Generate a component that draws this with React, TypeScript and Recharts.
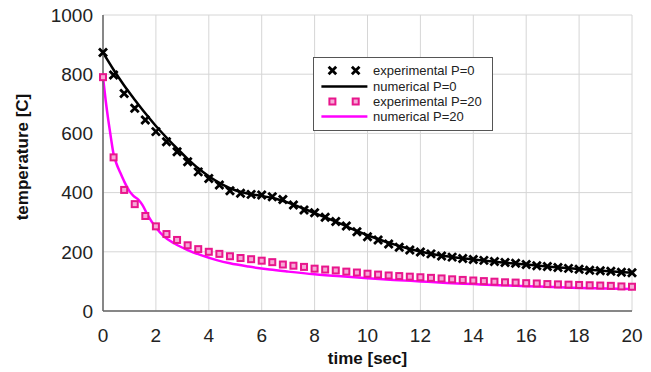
import { LineChart, Line, XAxis, YAxis, CartesianGrid, Legend, Label } from "recharts";

const FONT = "'Liberation Sans', Arial, sans-serif";

// measurement times (s)
const expTime = [
  0, 0.4, 0.8, 1.2, 1.6, 2, 2.4, 2.8, 3.2, 3.6, 4, 4.4, 4.8, 5.2, 5.6, 6, 6.4, 6.8, 7.2, 7.6, 8, 8.4, 8.8,
  9.2, 9.6, 10, 10.4, 10.8, 11.2, 11.6, 12, 12.4, 12.8, 13.2, 13.6, 14, 14.4, 14.8, 15.2, 15.6, 16, 16.4,
  16.8, 17.2, 17.6, 18, 18.4, 18.8, 19.2, 19.6, 20,
];
const expP0 = [
  873, 797, 735, 685, 645, 606, 572, 538, 504, 470, 448, 426, 406, 398, 394, 392, 386, 377, 358, 341, 332,
  317, 302, 287, 268, 251, 240, 226, 215, 206, 199, 193, 186, 182, 177, 174, 171, 167, 164, 161, 157, 153,
  150, 147, 144, 141, 138, 136, 134, 131, 129,
];
const expP20 = [
  790, 519, 409, 361, 321, 286, 260, 240, 222, 209, 200, 193, 185, 179, 175, 170, 165, 157, 153, 149, 143,
  140, 137, 133, 130, 126, 123, 120, 118, 116, 114, 112, 110, 107, 105, 103, 101, 99, 97, 96, 94, 93, 91,
  90, 89, 88, 87, 86, 85, 83, 82,
];

const numP0Time = [
  0, 0.4, 0.8, 1.2, 1.6, 2, 2.4, 2.8, 3.2, 3.6, 4, 4.5, 5, 5.5, 6, 6.5, 7, 7.5, 8, 8.5, 9, 9.5, 10, 10.5,
  11, 11.5, 12, 12.5, 13, 13.5, 14, 15, 16, 17, 18, 19, 20,
];
const numP0 = [
  873, 815, 762, 714, 668, 625, 586, 549, 514, 482, 455, 428, 408, 396, 389, 380, 366, 349, 331, 313, 294,
  274, 256, 240, 225, 212, 201, 192, 185, 179, 174, 165, 157, 149, 142, 135, 129,
];

const numP20Time = [
  0, 0.1, 0.2, 0.3, 0.4, 0.5, 0.65, 0.8, 1, 1.15, 1.35, 1.5, 1.7, 2, 2.3, 2.7, 3.2, 3.7, 4.3, 4.8, 5.5,
  6.3, 7, 8, 9, 10, 11, 12, 13, 14, 15, 16, 17, 18, 19, 20,
];
const numP20 = [
  790, 712, 645, 585, 530, 500, 468, 438, 405, 389, 375, 357, 322, 282, 252, 228, 206, 189, 172, 161, 150,
  140, 133, 124, 117, 111, 105, 100, 95, 91, 87, 84, 81, 78, 76, 74,
];

const xTicks = [0, 2, 4, 6, 8, 10, 12, 14, 16, 18, 20];
const yTicks = [0, 200, 400, 600, 800, 1000];

const legendRows = [
  { label: "experimental P=0", kind: "cross" },
  { label: "numerical P=0", kind: "blackLine" },
  { label: "experimental P=20", kind: "square" },
  { label: "numerical P=20", kind: "pinkLine" },
];

const zip = (ts: number[], vs: number[]) => ts.map((t, i) => ({ t, v: vs[i] }));

const PINK = "#ff00ff";
const SQUARE = "#e8168c";

function crossPath(cx: number, cy: number, s: number) {
  return `M${cx - s},${cy - s}L${cx + s},${cy + s}M${cx - s},${cy + s}L${cx + s},${cy - s}`;
}

const CrossDot = (props: any) => {
  const { cx, cy, index } = props;
  if (cx == null || cy == null) return null;
  return <path key={`x${index}`} d={crossPath(cx, cy, 4)} stroke="#000" strokeWidth={2.8} fill="none" />;
};

const SquareDot = (props: any) => {
  const { cx, cy, index } = props;
  if (cx == null || cy == null) return null;
  return (
    <rect key={`s${index}`} x={cx - 3} y={cy - 3} width={6} height={6} fill="#f6a9d6" stroke={SQUARE} strokeWidth={2} />
  );
};

function LegendSymbol({ kind }: { kind: string }) {
  return (
    <svg width={59} height={15} style={{ display: "block", flex: "none" }}>
      {kind === "cross" && (
        <>
          <path d={crossPath(18.4, 7.5, 3.8)} stroke="#000" strokeWidth={2.8} />
          <path d={crossPath(41.7, 7.5, 3.8)} stroke="#000" strokeWidth={2.8} />
        </>
      )}
      {kind === "square" && (
        <>
          <rect x={15.4} y={4.5} width={6} height={6} fill="#f6a9d6" stroke={SQUARE} strokeWidth={2} />
          <rect x={38.7} y={4.5} width={6} height={6} fill="#f6a9d6" stroke={SQUARE} strokeWidth={2} />
        </>
      )}
      {kind === "blackLine" && <line x1={7.4} x2={53.4} y1={7.5} y2={7.5} stroke="#000" strokeWidth={2.5} />}
      {kind === "pinkLine" && <line x1={7.4} x2={53.4} y1={7.5} y2={7.5} stroke={PINK} strokeWidth={2.5} />}
    </svg>
  );
}

function ChartLegend() {
  return (
    <div
      style={{
        width: 180,
        height: 74,
        boxSizing: "border-box",
        border: "1px solid #555",
        background: "#fff",
        paddingTop: 5,
        fontFamily: FONT,
        fontSize: 13,
        color: "#222",
      }}
    >
      {legendRows.map((r) => (
        <div key={r.label} style={{ display: "flex", alignItems: "center", height: 15.4, lineHeight: "15px" }}>
          <LegendSymbol kind={r.kind} />
          <span style={{ whiteSpace: "nowrap" }}>{r.label}</span>
        </div>
      ))}
    </div>
  );
}

const YTitle = () => (
  <text
    x={22}
    y={157}
    transform="rotate(-90 22 157)"
    textAnchor="middle"
    dominantBaseline="central"
    fontFamily={FONT}
    fontSize={17}
    fontWeight="bold"
    fill="#111"
  >
    temperature [C]
  </text>
);

export default function App() {
  const tickStyle = { fontSize: 19, fill: "#222", fontFamily: FONT };
  return (
    <div style={{ position: "absolute", left: 0, top: 0, width: 651, height: 372, background: "#fff" }}>
      <LineChart width={651} height={372} margin={{ top: 15, right: 19, bottom: 0, left: 0 }}>
        <CartesianGrid stroke="#d6d6d6" strokeWidth={1} />
        <XAxis
          dataKey="t"
          type="number"
          domain={[0, 20]}
          ticks={xTicks}
          height={61}
          tickLine={false}
          tickMargin={12}
          axisLine={{ stroke: "#666", strokeWidth: 1.5 }}
          tick={tickStyle}
          allowDuplicatedCategory={false}
        >
          <Label
            value="time [sec]"
            position="insideBottom"
            offset={8}
            style={{ fontFamily: FONT, fontSize: 17, fontWeight: "bold", fill: "#111" }}
          />
        </XAxis>
        <XAxis
          xAxisId="top"
          orientation="top"
          type="number"
          domain={[0, 20]}
          height={0}
          tick={false}
          tickLine={false}
          axisLine={{ stroke: "#666", strokeWidth: 1.5 }}
        />
        <YAxis
          type="number"
          domain={[0, 1000]}
          ticks={yTicks}
          width={103}
          tickLine={false}
          tickMargin={4}
          axisLine={{ stroke: "#666", strokeWidth: 1.5 }}
          tick={tickStyle}
        >
          <Label content={<YTitle />} />
        </YAxis>
        <YAxis
          yAxisId="right"
          orientation="right"
          type="number"
          domain={[0, 1000]}
          width={0}
          tick={false}
          tickLine={false}
          axisLine={{ stroke: "#666", strokeWidth: 1.5 }}
        />
        <Legend
          layout="horizontal"
          verticalAlign="middle"
          align="center"
          content={() => <ChartLegend />}
          wrapperStyle={{ left: 313, top: 57, width: 180, height: 74 }}
        />
        <Line
          data={zip(numP0Time, numP0)}
          dataKey="v"
          type="monotone"
          stroke="#000"
          strokeWidth={2.5}
          dot={false}
          activeDot={false}
          isAnimationActive={false}
          name="numerical P=0"
        />
        <Line
          data={zip(numP20Time, numP20)}
          dataKey="v"
          type="monotone"
          stroke={PINK}
          strokeWidth={2.5}
          dot={false}
          activeDot={false}
          isAnimationActive={false}
          name="numerical P=20"
        />
        <Line
          data={zip(expTime, expP0)}
          dataKey="v"
          stroke="none"
          dot={CrossDot}
          activeDot={false}
          isAnimationActive={false}
          name="experimental P=0"
        />
        <Line
          data={zip(expTime, expP20)}
          dataKey="v"
          stroke="none"
          dot={SquareDot}
          activeDot={false}
          isAnimationActive={false}
          name="experimental P=20"
        />
      </LineChart>
    </div>
  );
}
